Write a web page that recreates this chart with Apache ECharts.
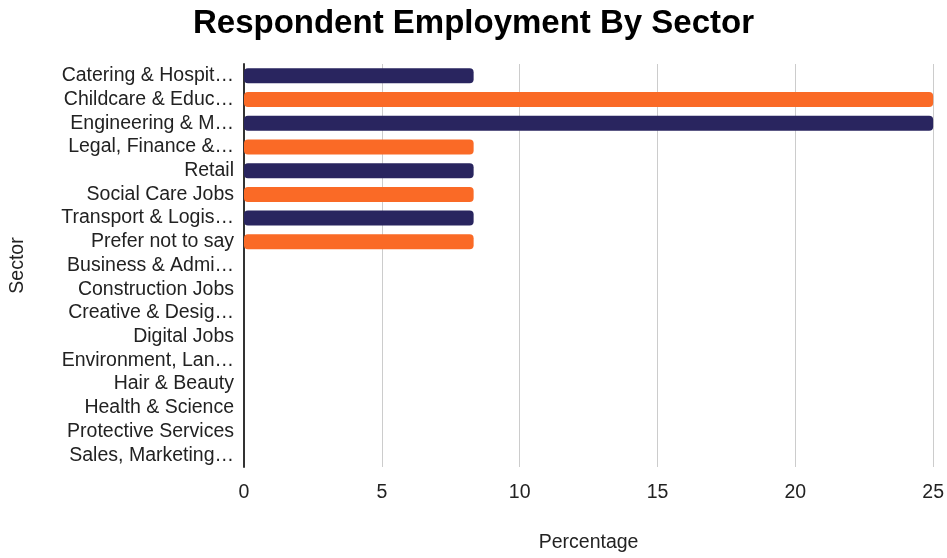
<!DOCTYPE html>
<html><head><meta charset="utf-8">
<script src="https://cdn.jsdelivr.net/npm/echarts@6/dist/echarts.min.js"></script>
<style>html,body{margin:0;padding:0;background:#fff}#c{width:947px;height:558px}</style>
</head><body><div id="c"></div>
<script>
const categories = ["Catering & Hospit…","Childcare & Educ…","Engineering & M…","Legal, Finance &…","Retail","Social Care Jobs","Transport & Logis…","Prefer not to say","Business & Admi…","Construction Jobs","Creative & Desig…","Digital Jobs","Environment, Lan…","Hair & Beauty","Health & Science","Protective Services","Sales, Marketing…"];
const values = [8.33,25,25,8.33,8.33,8.33,8.33,8.33,0,0,0,0,0,0,0,0,0];
const xTicks = [0,5,10,15,20,25];
const colors = ['#29255f','#fa6a26'];
const chart = echarts.init(document.getElementById('c'));
const F = 'Liberation Sans, Arial, sans-serif';
chart.setOption({
  animation:false,
  title:{text:'Respondent Employment By Sector',left:'center',top:2,textStyle:{fontFamily:F,fontSize:33,fontWeight:'bold',color:'#000'}},
  grid:{left:243,right:12,top:64,bottom:86,containLabel:false},
  xAxis:{type:'value',min:xTicks[0],max:xTicks[xTicks.length-1],interval:5,
    name:'Percentage',nameLocation:'middle',nameGap:66,nameTextStyle:{fontFamily:F,fontSize:19.5,color:'#222'},
    axisLine:{show:false},axisTick:{show:false},
    axisLabel:{fontFamily:F,fontSize:19.5,color:'#222',margin:16},
    splitLine:{lineStyle:{color:'#cccccc',width:1}}},
  yAxis:{type:'category',inverse:true,data:categories,
    name:'Sector',nameLocation:'middle',nameGap:216,nameRotate:90,nameTextStyle:{fontFamily:F,fontSize:19.5,color:'#222'},
    axisLine:{lineStyle:{color:'#333',width:2}},axisTick:{show:false},
    axisLabel:{fontFamily:F,fontSize:19.5,color:'#222',margin:10,interval:0}},
  series:[{type:'bar',data:values.map((v,i)=>({value:v,itemStyle:{color:colors[i%2]}})),
    barWidth:15,itemStyle:{borderRadius:4}}]
});
</script></body></html>
